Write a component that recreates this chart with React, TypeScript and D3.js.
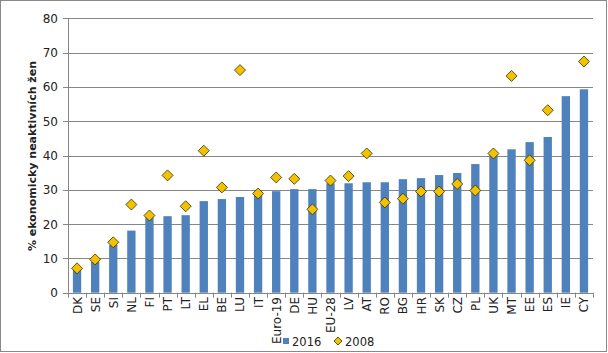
import React from "react";
import * as d3 from "d3";

const categories = ["DK","SE","SI","NL","FI","PT","LT","EL","BE","LU","IT","Euro-19","DE","HU","EU-28","LV","AT","RO","BG","HR","SK","CZ","PL","UK","MT","EE","ES","IE","CY"];
const values2016 = [6.6,9.0,13.9,18.1,22.0,22.3,22.6,26.7,27.3,27.9,28.4,29.6,30.2,30.2,31.9,31.9,32.2,32.2,33.1,33.4,34.3,34.9,37.5,40.1,41.8,43.9,45.4,57.3,59.3];
const values2008: (number | null)[] = [7.1,9.7,14.7,25.7,22.5,34.2,25.2,41.4,30.7,64.9,28.9,33.6,33.2,24.3,32.7,34.0,40.6,26.3,27.4,29.5,29.5,31.7,29.8,40.6,63.2,38.6,53.2,null,67.4];
const yTicks = [0,10,20,30,40,50,60,70,80];

const W = 608, H = 353;
const left = 68, right = 593, top = 18.3, bottom = 292.7;
const font = "Verdana, 'DejaVu Sans', sans-serif";

export default function App() {
  const x = d3.scaleBand<string>().domain(categories).range([left, right]).paddingInner(0.54).paddingOuter(0.27);
  const xb = d3.scaleBand<string>().domain(categories).range([left, right]);
  const y = d3.scaleLinear().domain([0, 80]).range([bottom, top]);
  const blue = "#4F81BD";
  const gold = "#F2C200";
  const ds = 5.5;
  const diamond = (cx: number, cy: number, s: number) => `M${cx},${cy - s}L${cx + s},${cy}L${cx},${cy + s}L${cx - s},${cy}Z`;
  return (
    <svg width={W} height={H} style={{ position: "absolute", left: 0, top: 0 }}>
      <rect x={0} y={0} width={W} height={H} fill="#fff" />
      <rect x={0.5} y={0.5} width={W - 2} height={H - 2} fill="none" stroke="#888" />
      {yTicks.map((t) => (
        <g key={t}>
          {t > 0 && <line x1={left} x2={right} y1={Math.round(y(t)) + 0.5} y2={Math.round(y(t)) + 0.5} stroke="#868686" />}
          <line x1={left - 5} x2={left} y1={Math.round(y(t)) + 0.5} y2={Math.round(y(t)) + 0.5} stroke="#868686" />
          <text x={58} y={y(t) + 4.5} textAnchor="end" fontSize={12} fontFamily={font} fill="#222">{t}</text>
        </g>
      ))}
      {categories.map((c, i) => (
        <rect key={c} x={x(c)} y={y(values2016[i])} width={x.bandwidth()} height={bottom - y(values2016[i])} fill={blue} />
      ))}
      <line x1={left + 0.5} x2={left + 0.5} y1={top} y2={bottom} stroke="#868686" />
      <line x1={left} x2={right} y1={Math.round(bottom) + 0.5} y2={Math.round(bottom) + 0.5} stroke="#868686" />
      {categories.map((c) => (
        <line key={"t" + c} x1={Math.round(xb(c)!) + 0.5} x2={Math.round(xb(c)!) + 0.5} y1={bottom} y2={bottom + 5} stroke="#868686" />
      ))}
      <line x1={right + 0.5} x2={right + 0.5} y1={bottom} y2={bottom + 5} stroke="#868686" />
      {categories.map((c, i) => {
        const v = values2008[i];
        if (v == null) return null;
        const cx = x(c)! + x.bandwidth() / 2;
        return <path key={"d" + c} d={diamond(cx, y(v), ds)} fill={gold} stroke="#3a2f00" strokeWidth={0.8} />;
      })}
      {categories.map((c) => {
        const cx = xb(c)! + xb.bandwidth() / 2;
        return (
          <text key={"l" + c} transform={`translate(${cx + 4.5},297) rotate(-90)`} textAnchor="end" fontSize={12} fontFamily={font} fill="#222">{c}</text>
        );
      })}
      <text transform="translate(36,156) rotate(-90)" textAnchor="middle" fontSize={11} fontWeight="bold" fontFamily={font} fill="#222">% ekonomicky neaktivních žen</text>
      <rect x={283} y={338} width={6} height={6} fill={blue} />
      <text x={292} y={346} fontSize={11.5} fontFamily={font} fill="#222">2016</text>
      <path d={diamond(338, 341, 4)} fill={gold} stroke="#3a2f00" strokeWidth={0.8} />
      <text x={345} y={346} fontSize={11.5} fontFamily={font} fill="#222">2008</text>
    </svg>
  );
}
